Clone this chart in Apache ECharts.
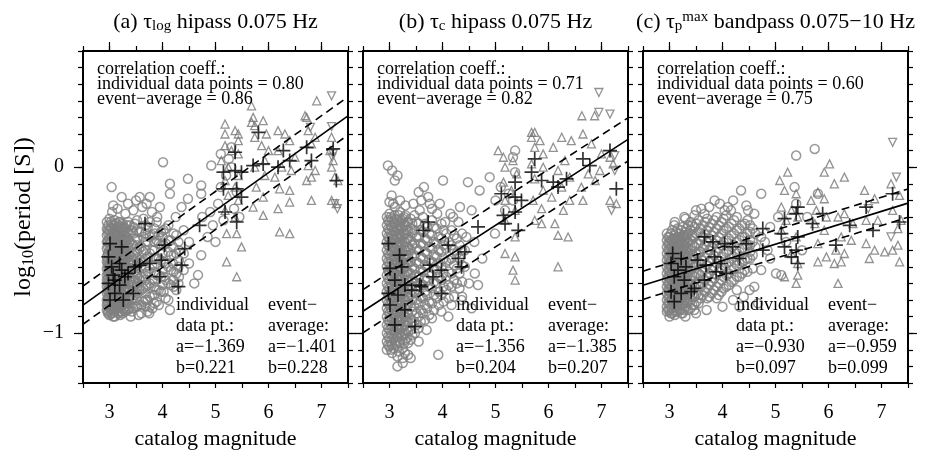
<!DOCTYPE html>
<html><head><meta charset="utf-8">
<script src="https://cdn.jsdelivr.net/npm/echarts@6/dist/echarts.min.js"></script>
<style>html,body{margin:0;padding:0;background:#fff}#c{width:926px;height:450px}</style>
</head><body><div id="c"></div>
<script>
// ---------- data ----------
const xTickVals = [3, 4, 5, 6, 7];
const xTickLabels = ['3', '4', '5', '6', '7'];
const yTickVals = [-1, 0];
const yTickLabels = ['\u22121', '0'];

const panelTitles = [
  '(a) \u03c4{sub|log} hipass 0.075 Hz',
  '(b) \u03c4{sub|c} hipass 0.075 Hz',
  '(c) \u03c4{sub|p}{sup|max} bandpass 0.075\u221210 Hz'
];
const corrIndividual = ['0.80', '0.71', '0.60'];
const corrEvent = ['0.86', '0.82', '0.75'];
const coefIndividualA = ['\u22121.369', '\u22121.356', '\u22120.930'];
const coefIndividualB = ['0.221', '0.204', '0.097'];
const coefEventA = ['\u22121.401', '\u22121.385', '\u22120.959'];
const coefEventB = ['0.228', '0.207', '0.099'];
// event-average regression (a, b) and dashed band half-width
const fitA = [-1.401, -1.385, -0.959];
const fitB = [0.228, 0.207, 0.099];
const fitBand = [0.115, 0.13, 0.085];

const circlesA = [
[2.97,-0.38],[2.97,-0.45],[2.97,-0.52],[2.97,-0.58],[2.97,-0.63],[2.97,-0.69],[2.97,-0.74],[2.97,-0.79],[2.97,-0.84],[2.97,-0.88],
[3.07,-0.40],[3.07,-0.47],[3.07,-0.53],[3.07,-0.60],[3.07,-0.64],[3.07,-0.70],[3.07,-0.75],[3.07,-0.80],[3.07,-0.86],[3.07,-0.90],
[3.17,-0.33],[3.17,-0.41],[3.17,-0.49],[3.17,-0.55],[3.17,-0.63],[3.17,-0.67],[3.17,-0.72],[3.17,-0.78],[3.17,-0.83],[3.17,-0.87],
[3.27,-0.36],[3.27,-0.43],[3.27,-0.51],[3.27,-0.59],[3.27,-0.66],[3.27,-0.74],[3.27,-0.81],[3.27,-0.86],
[3.38,-0.35],[3.38,-0.45],[3.38,-0.53],[3.38,-0.61],[3.38,-0.69],[3.38,-0.78],[3.38,-0.85],
[3.52,-0.32],[3.52,-0.47],[3.52,-0.55],[3.52,-0.64],[3.52,-0.72],[3.52,-0.80],
[3.68,-0.40],[3.68,-0.50],[3.68,-0.60],[3.68,-0.68],[3.68,-0.76],[3.68,-0.84],
[3.85,-0.45],[3.85,-0.55],[3.85,-0.63],[3.85,-0.72],[3.85,-0.82],
[4.00,-0.42],[4.00,-0.52],[4.00,-0.62],[4.00,-0.71],
[4.20,-0.48],[4.20,-0.58],[4.20,-0.68],
[4.30,-0.45],[4.30,-0.60],[4.30,-0.70],
[4.40,-0.52],[4.40,-0.62],
[4.01,0.03],[4.92,0.01],[4.14,-0.10],[4.48,-0.07],[3.04,-0.12],[3.23,-0.18],[4.14,-0.16],[3.57,-0.18],[3.76,-0.18],[4.48,-0.19],
[4.73,-0.11],[4.73,-0.16],[3.07,-0.23],[3.95,-0.24],[4.36,-0.24],[4.73,-0.53],[4.67,-0.65],[4.14,-0.86],[3.60,-0.88],
[5.05,-0.22],[5.10,-0.12],[5.20,-0.05],[5.25,0.05],[5.35,-0.25],[5.40,-0.15],[5.30,0.00],[5.45,-0.30],[5.15,-0.32],
[4.95,-0.35],[4.85,-0.42],[4.90,-0.27],[5.00,-0.45],[4.75,-0.30],[5.10,0.08],[5.30,0.12],
[3.05,-0.27],[3.15,-0.25],[3.30,-0.28],[3.45,-0.26],[3.62,-0.24],[3.80,-0.27],[3.90,-0.30],[3.35,-0.22],[3.50,-0.20],[3.70,-0.22],
[4.25,-0.30],[4.40,-0.38],[4.50,-0.45],[4.50,-0.58],[4.60,-0.70],[3.40,-0.90],[3.55,-0.89],[3.75,-0.88]
];
// dense cloud of individual points, per magnitude column
const coreColsA = [
[2.95,[-0.33,-0.37,-0.41,-0.45,-0.49,-0.54,-0.57,-0.61,-0.65,-0.68,-0.72,-0.76,-0.80,-0.83,-0.86]],
[2.975,[-0.35,-0.40,-0.44,-0.48,-0.52,-0.56,-0.60,-0.64,-0.67,-0.71,-0.75,-0.78,-0.82,-0.87]],
[3.00,[-0.31,-0.38,-0.43,-0.46,-0.50,-0.53,-0.58,-0.62,-0.64,-0.69,-0.73,-0.75,-0.79,-0.85,-0.89]],
[3.025,[-0.33,-0.37,-0.41,-0.45,-0.49,-0.53,-0.57,-0.60,-0.65,-0.69,-0.72,-0.76,-0.80,-0.84,-0.88]],
[3.05,[-0.34,-0.37,-0.42,-0.45,-0.51,-0.55,-0.57,-0.62,-0.66,-0.68,-0.73,-0.77,-0.81,-0.84,-0.88]],
[3.075,[-0.35,-0.39,-0.43,-0.47,-0.52,-0.55,-0.59,-0.63,-0.67,-0.71,-0.74,-0.78,-0.83,-0.87]],
[3.10,[-0.32,-0.39,-0.41,-0.47,-0.49,-0.54,-0.59,-0.61,-0.65,-0.70,-0.72,-0.76,-0.81,-0.86,-0.90]],
[3.125,[-0.34,-0.38,-0.42,-0.46,-0.50,-0.55,-0.58,-0.62,-0.66,-0.69,-0.74,-0.77,-0.82,-0.85]],
[3.15,[-0.36,-0.39,-0.44,-0.47,-0.52,-0.56,-0.59,-0.64,-0.66,-0.70,-0.74,-0.78,-0.81,-0.85]],
[3.175,[-0.35,-0.40,-0.43,-0.48,-0.51,-0.57,-0.60,-0.62,-0.68,-0.72,-0.75,-0.80,-0.84,-0.88]],
[3.20,[-0.33,-0.37,-0.42,-0.48,-0.50,-0.54,-0.60,-0.63,-0.67,-0.69,-0.74,-0.78,-0.80,-0.85,-0.89]],
[3.225,[-0.36,-0.40,-0.44,-0.49,-0.53,-0.56,-0.61,-0.64,-0.69,-0.72,-0.75,-0.79,-0.84,-0.87]],
[3.25,[-0.34,-0.39,-0.44,-0.47,-0.53,-0.56,-0.61,-0.63,-0.68,-0.71,-0.77,-0.79,-0.83,-0.88]],
[3.275,[-0.38,-0.41,-0.46,-0.49,-0.54,-0.58,-0.62,-0.65,-0.70,-0.73,-0.78,-0.82,-0.85]],
[3.30,[-0.37,-0.42,-0.45,-0.51,-0.54,-0.59,-0.61,-0.66,-0.68,-0.73,-0.75,-0.80,-0.82,-0.87]],
[3.325,[-0.35,-0.39,-0.44,-0.47,-0.53,-0.55,-0.60,-0.64,-0.67,-0.72,-0.76,-0.81,-0.85]],
[3.35,[-0.33,-0.39,-0.43,-0.49,-0.52,-0.57,-0.62,-0.65,-0.70,-0.74,-0.79,-0.82,-0.86]],
[3.42,[-0.38,-0.46,-0.54,-0.62,-0.71,-0.79,-0.87]],
[3.45,[-0.36,-0.40,-0.47,-0.53,-0.56,-0.63,-0.69,-0.72,-0.79,-0.85]],
[3.48,[-0.34,-0.44,-0.52,-0.60,-0.68,-0.77,-0.84]],
[3.52,[-0.38,-0.43,-0.51,-0.59,-0.66,-0.70,-0.76,-0.84]],
[3.56,[-0.39,-0.49,-0.58,-0.67,-0.74,-0.83]],
[3.60,[-0.39,-0.48,-0.57,-0.66,-0.74,-0.83]],
[3.64,[-0.31,-0.42,-0.51,-0.57,-0.66,-0.73,-0.81]],
[3.68,[-0.35,-0.45,-0.55,-0.64,-0.72,-0.80]],
[3.72,[-0.36,-0.45,-0.54,-0.63,-0.71,-0.80,-0.87]],
[3.76,[-0.33,-0.42,-0.52,-0.61,-0.70,-0.78,-0.84]],
[3.81,[-0.41,-0.50,-0.59,-0.68,-0.77,-0.85]],
[3.85,[-0.37,-0.40,-0.50,-0.59,-0.68,-0.77]],
[3.89,[-0.33,-0.44,-0.55,-0.65,-0.74,-0.81]],
[3.93,[-0.41,-0.46,-0.55,-0.65,-0.74,-0.83]],
[3.97,[-0.39,-0.47,-0.56,-0.66,-0.75]],
[4.02,[-0.38,-0.47,-0.57,-0.66,-0.75]],
[4.06,[-0.37,-0.46,-0.58,-0.68,-0.79]],
[4.11,[-0.35,-0.44,-0.51,-0.60,-0.70,-0.80]],
[4.16,[-0.44,-0.53,-0.62,-0.71]],
[4.21,[-0.40,-0.53,-0.63,-0.72]],
[4.26,[-0.41,-0.52,-0.64,-0.74]],
[4.31,[-0.50,-0.56,-0.66]]
];
const triUpA = [
[5.18,0.26],[5.37,0.22],[5.43,0.20],[5.18,0.13],[5.30,0.10],[5.43,0.08],[5.11,0.04],[5.24,0.00],[5.43,-0.05],[5.18,-0.08],
[5.37,-0.12],[5.24,-0.17],[5.43,-0.20],[5.18,-0.26],[5.37,-0.30],[5.21,-0.40],[5.40,-0.40],[5.49,-0.48],[5.21,-0.57],[5.40,-0.66],
[5.43,0.16],[5.18,0.20],
[5.71,0.30],[5.90,0.28],[5.74,0.25],[5.96,0.20],[5.74,0.18],[5.87,0.13],[6.00,0.10],[5.74,0.00],[5.93,-0.05],[5.77,-0.12],
[5.90,-0.18],[5.71,-0.24],[5.90,-0.29],[5.93,0.04],[5.68,0.27],[5.68,0.37],
[6.18,0.22],[6.31,0.20],[6.40,0.16],[6.18,0.10],[6.50,0.06],[6.25,0.00],[6.43,-0.02],[6.21,-0.13],[6.40,-0.14],[6.18,-0.25],
[6.40,-0.21],[6.21,-0.39],[6.40,-0.40],[6.12,-0.06],
[6.69,0.31],[6.75,0.22],[6.88,0.18],[6.81,0.14],[6.75,0.01],[6.88,-0.02],[6.81,-0.06],[6.72,-0.08],[6.81,-0.20],[6.91,0.40],[6.72,0.30],
[7.19,0.18],[7.16,0.10],[7.22,0.04],[7.19,0.00],[7.25,-0.06],[7.19,-0.20],[7.28,-0.22],[7.31,-0.08]
];
const triDownA = [
[7.19,0.43],[6.79,0.24],[7.19,0.245],[7.20,0.06],[7.25,-0.22],[7.30,-0.25],[7.22,0.08]
];
const plusA = [
[5.81,0.21],[5.37,0.09],[5.15,-0.03],[5.37,-0.02],[5.49,-0.03],[5.71,0.01],[5.90,0.02],[6.18,0.00],[6.28,0.10],[6.40,0.04],
[6.72,0.12],[6.81,0.04],[7.22,0.11],[7.28,-0.08],[5.15,-0.13],[5.40,-0.13],[5.49,-0.18],[5.18,-0.27],[5.40,-0.33],[4.70,-0.35],
[3.67,-0.34],[4.04,-0.47],[4.42,-0.49],[4.36,-0.59],[3.98,-0.56],[3.76,-0.58],[3.57,-0.59],[3.01,-0.46],[3.23,-0.48],[2.98,-0.54],
[3.04,-0.60],[3.23,-0.62],[3.10,-0.68],[3.29,-0.66],[2.98,-0.70],[3.19,-0.71],[3.35,-0.64],[3.10,-0.76],[3.01,-0.80],[3.26,-0.80],
[3.45,-0.76],[3.48,-0.60],[3.95,-0.66],[4.30,-0.72],[3.19,-0.58],[3.07,-0.65]
];

const circlesB = [
[2.97,0.01],[3.05,-0.02],[3.15,-0.05],[3.10,-0.08],[3.04,-0.17],[3.07,-0.22],[4.01,-0.08],[4.48,-0.09],[4.89,-0.06],[4.70,-0.14],
[3.73,-0.18],[3.76,-0.22],[3.57,-0.26],[4.33,-0.24],[4.55,-0.26],[4.99,-0.40],[4.67,-0.71],[4.61,-0.64],[4.36,-0.80],[4.11,-0.90],
[3.92,-1.13],[3.48,-1.00],[3.29,-1.12],[3.40,-1.15],[5.37,0.10],[5.33,0.06],[5.37,-0.03],[5.33,-0.20],[5.18,-0.26],[4.20,-0.30],
[4.05,-0.33],[3.90,-0.28],[4.60,-0.45],[4.75,-0.55],[5.00,-0.20],[5.10,-0.12],[5.25,-0.16],
[3.00,-0.21],[3.10,-0.24],[3.20,-0.20],[3.30,-0.23],[3.45,-0.22],[3.60,-0.20],[3.55,-0.15],[3.65,-0.12],[3.80,-0.25],[3.95,-0.22],
[4.15,-0.28],[4.30,-0.33],[4.45,-0.42],[4.50,-0.70],[4.55,-0.85],[3.55,-1.05],[3.70,-0.98],[3.15,-1.20],[3.25,-1.18],
[4.42,-0.50],[4.42,-0.60]
];
const coreColsB = [
[2.95,[-0.30,-0.35,-0.40,-0.45,-0.50,-0.55,-0.60,-0.65,-0.70,-0.75,-0.80,-0.85,-0.90,-0.95,-1.00,-1.05,-1.10]],
[2.975,[-0.32,-0.37,-0.42,-0.47,-0.52,-0.57,-0.62,-0.67,-0.72,-0.77,-0.82,-0.87,-0.92,-0.97,-1.02,-1.07]],
[3.00,[-0.28,-0.33,-0.38,-0.43,-0.48,-0.53,-0.58,-0.63,-0.68,-0.73,-0.78,-0.83,-0.88,-0.93,-0.98,-1.03,-1.08]],
[3.025,[-0.30,-0.35,-0.40,-0.45,-0.50,-0.55,-0.60,-0.65,-0.70,-0.75,-0.80,-0.85,-0.90,-0.95,-1.00,-1.05,-1.10]],
[3.05,[-0.31,-0.36,-0.41,-0.46,-0.51,-0.56,-0.61,-0.66,-0.71,-0.76,-0.81,-0.86,-0.91,-0.96,-1.01,-1.07,-1.12]],
[3.075,[-0.33,-0.38,-0.43,-0.48,-0.53,-0.58,-0.63,-0.68,-0.73,-0.78,-0.83,-0.88,-0.93,-0.98,-1.03,-1.09]],
[3.10,[-0.29,-0.34,-0.39,-0.44,-0.49,-0.54,-0.59,-0.64,-0.69,-0.74,-0.79,-0.84,-0.89,-0.94,-0.99,-1.05]],
[3.125,[-0.31,-0.36,-0.41,-0.46,-0.51,-0.56,-0.61,-0.66,-0.71,-0.76,-0.81,-0.86,-0.91,-0.96,-1.01,-1.07]],
[3.15,[-0.32,-0.37,-0.42,-0.47,-0.52,-0.57,-0.62,-0.67,-0.72,-0.77,-0.82,-0.87,-0.92,-0.97,-1.02,-1.08,-1.14]],
[3.175,[-0.29,-0.35,-0.40,-0.45,-0.50,-0.55,-0.60,-0.65,-0.70,-0.75,-0.80,-0.85,-0.90,-0.95,-1.00,-1.05,-1.11]],
[3.20,[-0.27,-0.33,-0.38,-0.43,-0.48,-0.53,-0.58,-0.63,-0.68,-0.73,-0.78,-0.83,-0.88,-0.93,-0.98,-1.06]],
[3.225,[-0.32,-0.37,-0.42,-0.47,-0.52,-0.57,-0.62,-0.67,-0.72,-0.77,-0.82,-0.87,-0.92,-0.97,-1.02]],
[3.25,[-0.31,-0.36,-0.41,-0.46,-0.51,-0.56,-0.61,-0.66,-0.71,-0.76,-0.81,-0.86,-0.91,-0.96,-1.01,-1.09,-1.15]],
[3.275,[-0.30,-0.35,-0.40,-0.45,-0.50,-0.55,-0.60,-0.65,-0.70,-0.75,-0.80,-0.85,-0.90,-0.95,-1.00,-1.06]],
[3.30,[-0.29,-0.35,-0.40,-0.45,-0.50,-0.55,-0.60,-0.65,-0.70,-0.75,-0.80,-0.85,-0.90,-0.95,-1.00,-1.04]],
[3.325,[-0.33,-0.38,-0.43,-0.48,-0.53,-0.58,-0.63,-0.68,-0.73,-0.78,-0.83,-0.88,-0.93,-0.98,-1.03]],
[3.35,[-0.33,-0.38,-0.43,-0.48,-0.53,-0.58,-0.63,-0.68,-0.73,-0.78,-0.83,-0.88,-0.93,-0.99,-1.06,-1.13]],
[3.40,[-0.31,-0.37,-0.44,-0.50,-0.57,-0.64,-0.71,-0.77,-0.84,-0.91,-0.98,-1.04]],
[3.43,[-0.34,-0.40,-0.47,-0.54,-0.60,-0.67,-0.74,-0.80,-0.87,-0.94,-1.01]],
[3.47,[-0.29,-0.38,-0.46,-0.53,-0.61,-0.69,-0.76,-0.84,-0.93]],
[3.51,[-0.33,-0.42,-0.49,-0.57,-0.65,-0.72,-0.80,-0.88,-0.95]],
[3.55,[-0.34,-0.42,-0.50,-0.58,-0.66,-0.74,-0.82,-0.90,-0.97]],
[3.59,[-0.38,-0.46,-0.54,-0.62,-0.70,-0.78,-0.86,-0.93]],
[3.63,[-0.30,-0.39,-0.47,-0.55,-0.63,-0.71,-0.79,-0.88]],
[3.67,[-0.34,-0.43,-0.51,-0.59,-0.67,-0.75,-0.83,-0.92]],
[3.71,[-0.36,-0.44,-0.52,-0.60,-0.68,-0.77,-0.85]],
[3.75,[-0.40,-0.48,-0.56,-0.64,-0.72,-0.81,-0.89]],
[3.80,[-0.32,-0.41,-0.49,-0.57,-0.65,-0.73,-0.82,-0.91]],
[3.84,[-0.36,-0.45,-0.53,-0.61,-0.69,-0.77,-0.86]],
[3.89,[-0.37,-0.46,-0.54,-0.62,-0.70,-0.79]],
[3.93,[-0.42,-0.50,-0.58,-0.66,-0.75,-0.83]],
[3.98,[-0.34,-0.43,-0.51,-0.60,-0.68,-0.77,-0.87]],
[4.02,[-0.38,-0.47,-0.55,-0.64,-0.72,-0.81]],
[4.07,[-0.40,-0.49,-0.57,-0.66,-0.74]],
[4.12,[-0.45,-0.56,-0.63,-0.71,-0.79]],
[4.17,[-0.38,-0.47,-0.55,-0.64,-0.72,-0.83]],
[4.22,[-0.41,-0.50,-0.59,-0.68,-0.78]],
[4.27,[-0.43,-0.52,-0.61,-0.70]],
[4.32,[-0.47,-0.55,-0.64,-0.73]],
[4.37,[-0.40,-0.50,-0.59,-0.69,-0.78]]
];
const triUpB = [
[6.87,0.31],[6.63,0.31],[5.68,0.21],
[5.74,0.21],[5.68,0.18],[5.84,0.16],[5.74,0.12],[5.90,0.08],[5.68,0.02],[5.90,0.00],[5.74,-0.07],[5.90,-0.14],[5.71,-0.20],
[5.87,-0.25],[5.74,-0.32],[5.87,-0.34],
[5.15,0.06],[5.33,0.04],[5.18,0.00],[5.40,-0.04],[5.15,-0.09],[5.30,-0.14],[5.18,-0.20],[5.37,-0.26],[5.18,-0.32],[5.37,-0.42],
[5.18,-0.52],[5.37,-0.54],[5.33,-0.62],[5.37,-0.68],[5.05,0.10],
[6.25,0.18],[6.09,0.12],[6.43,0.16],[6.31,0.04],[6.18,-0.02],[6.40,-0.06],[6.25,-0.12],[6.06,-0.18],[6.40,-0.20],[6.28,-0.26],
[6.12,-0.34],[6.18,-0.41],[6.37,-0.42],[6.18,-0.60],
[6.65,0.20],[6.81,0.14],[7.00,0.08],[6.75,-0.04],[6.97,-0.02],[6.62,-0.12],[6.88,-0.08],[6.65,-0.20],
[7.16,0.06],[7.22,0.02],[7.16,-0.20],[7.28,-0.22]
];
const triDownB = [
[7.16,0.32],[7.25,-0.02],[7.19,-0.26],[7.25,0.07],[6.95,0.45],[6.95,0.33]
];
const plusB = [
[5.74,0.05],[5.68,-0.03],[5.87,-0.08],[6.09,-0.09],[6.18,-0.12],[6.34,-0.07],[6.65,0.05],[6.78,0.01],[7.16,0.10],[7.28,-0.13],
[5.37,-0.09],[5.11,-0.16],[5.37,-0.18],[5.49,-0.20],[5.15,-0.29],[5.37,-0.27],[5.18,-0.34],[5.43,-0.38],[4.67,-0.36],[3.73,-0.33],
[3.64,-0.38],[4.11,-0.47],[4.42,-0.51],[4.30,-0.55],[4.36,-0.60],[3.98,-0.62],[3.76,-0.59],[3.82,-0.66],[3.57,-0.71],[3.98,-0.76],
[2.98,-0.46],[3.19,-0.53],[3.01,-0.61],[3.23,-0.60],[3.10,-0.68],[3.29,-0.71],[2.98,-0.76],[3.16,-0.77],[3.42,-0.74],[3.01,-0.83],
[3.29,-0.86],[3.10,-0.95],[3.48,-0.96],[3.60,-0.72]
];

const circlesC = [
[5.39,0.07],[5.74,0.11],[4.35,-0.14],[4.73,-0.16],[3.85,-0.20],[4.04,-0.26],[4.16,-0.26],[4.48,-0.26],[3.09,-0.35],[3.28,-0.30],
[3.47,-0.29],[3.66,-0.28],[4.73,-0.42],[5.01,-0.64],[4.73,-0.62],[5.11,-0.65],[4.51,-0.74],[4.32,-0.84],[3.47,-0.86],[4.67,-0.82],
[5.39,-0.22],[5.36,-0.12],[5.05,-0.30],[4.90,-0.36],[5.20,-0.45],[4.85,-0.50],[5.80,-0.16],[5.60,-0.30],[5.50,-0.50],
[3.10,-0.33],[3.30,-0.31],[3.50,-0.26],[3.60,-0.25],[3.75,-0.24],[3.95,-0.22],[4.10,-0.24],[4.20,-0.20],[4.45,-0.23],[4.60,-0.28],
[3.30,-0.90],[3.50,-0.88],[3.70,-0.86],[4.00,-0.84],[4.20,-0.80],[4.40,-0.78],[4.60,-0.72],[4.80,-0.45],[4.90,-0.55],
[4.62,-0.40],[4.62,-0.48],[4.52,-0.35],[4.52,-0.44],[4.52,-0.51]
];
const coreColsC = [
[2.95,[-0.40,-0.44,-0.48,-0.52,-0.56,-0.60,-0.64,-0.68,-0.72,-0.76,-0.80,-0.84,-0.87]],
[2.975,[-0.42,-0.46,-0.50,-0.54,-0.58,-0.62,-0.66,-0.70,-0.74,-0.78,-0.82,-0.86]],
[3.00,[-0.42,-0.46,-0.50,-0.54,-0.58,-0.62,-0.66,-0.70,-0.74,-0.78,-0.82,-0.86,-0.90]],
[3.025,[-0.40,-0.44,-0.48,-0.52,-0.56,-0.60,-0.64,-0.68,-0.72,-0.76,-0.80,-0.84,-0.88]],
[3.05,[-0.38,-0.44,-0.48,-0.52,-0.56,-0.60,-0.64,-0.68,-0.72,-0.76,-0.80,-0.85,-0.88]],
[3.075,[-0.43,-0.46,-0.50,-0.54,-0.58,-0.62,-0.66,-0.70,-0.74,-0.78,-0.82,-0.87]],
[3.10,[-0.41,-0.45,-0.49,-0.53,-0.57,-0.61,-0.65,-0.69,-0.73,-0.77,-0.81,-0.84,-0.89]],
[3.125,[-0.39,-0.43,-0.47,-0.51,-0.55,-0.59,-0.63,-0.67,-0.71,-0.75,-0.79,-0.83,-0.87]],
[3.15,[-0.37,-0.43,-0.47,-0.51,-0.55,-0.59,-0.63,-0.67,-0.71,-0.75,-0.79,-0.83,-0.87]],
[3.175,[-0.42,-0.45,-0.49,-0.53,-0.57,-0.61,-0.65,-0.69,-0.73,-0.77,-0.81,-0.85]],
[3.20,[-0.40,-0.44,-0.48,-0.52,-0.56,-0.60,-0.64,-0.68,-0.72,-0.76,-0.80,-0.86]],
[3.225,[-0.38,-0.42,-0.46,-0.50,-0.54,-0.58,-0.62,-0.66,-0.70,-0.74,-0.78,-0.83,-0.88]],
[3.25,[-0.36,-0.42,-0.46,-0.50,-0.54,-0.58,-0.62,-0.66,-0.70,-0.74,-0.78,-0.82,-0.88]],
[3.275,[-0.41,-0.44,-0.48,-0.52,-0.56,-0.60,-0.64,-0.68,-0.72,-0.76,-0.80,-0.86]],
[3.30,[-0.39,-0.43,-0.47,-0.51,-0.55,-0.59,-0.63,-0.67,-0.71,-0.75,-0.80,-0.84]],
[3.325,[-0.37,-0.41,-0.45,-0.49,-0.53,-0.57,-0.61,-0.65,-0.69,-0.73,-0.78,-0.82]],
[3.35,[-0.35,-0.41,-0.45,-0.49,-0.53,-0.57,-0.61,-0.65,-0.69,-0.73,-0.77,-0.81,-0.86]],
[3.40,[-0.33,-0.38,-0.44,-0.50,-0.56,-0.62,-0.68,-0.74,-0.80,-0.85]],
[3.43,[-0.35,-0.41,-0.47,-0.53,-0.59,-0.65,-0.71,-0.77,-0.83]],
[3.47,[-0.36,-0.42,-0.48,-0.54,-0.60,-0.66,-0.72,-0.78,-0.83]],
[3.51,[-0.34,-0.40,-0.46,-0.52,-0.58,-0.64,-0.70,-0.76,-0.81]],
[3.55,[-0.32,-0.39,-0.46,-0.52,-0.58,-0.64,-0.70,-0.77,-0.82]],
[3.59,[-0.37,-0.44,-0.51,-0.58,-0.65,-0.72,-0.79]],
[3.63,[-0.35,-0.42,-0.49,-0.56,-0.63,-0.70,-0.77]],
[3.67,[-0.33,-0.40,-0.47,-0.54,-0.61,-0.68,-0.75]],
[3.71,[-0.31,-0.38,-0.45,-0.52,-0.59,-0.66,-0.73,-0.79]],
[3.75,[-0.36,-0.43,-0.50,-0.57,-0.64,-0.71,-0.78]],
[3.80,[-0.34,-0.41,-0.48,-0.55,-0.62,-0.69,-0.76]],
[3.84,[-0.32,-0.39,-0.46,-0.53,-0.60,-0.67,-0.74]],
[3.89,[-0.30,-0.37,-0.44,-0.51,-0.58,-0.65,-0.72,-0.79]],
[3.93,[-0.35,-0.42,-0.49,-0.56,-0.63,-0.70,-0.77]],
[3.98,[-0.33,-0.40,-0.47,-0.54,-0.61,-0.68,-0.75]],
[4.02,[-0.31,-0.38,-0.45,-0.52,-0.59,-0.66,-0.73]],
[4.07,[-0.29,-0.37,-0.44,-0.51,-0.58,-0.65,-0.72]],
[4.12,[-0.36,-0.43,-0.50,-0.57,-0.64,-0.71]],
[4.17,[-0.34,-0.41,-0.48,-0.55,-0.62,-0.69]],
[4.22,[-0.32,-0.40,-0.47,-0.54,-0.61,-0.68]],
[4.27,[-0.30,-0.38,-0.45,-0.52,-0.59,-0.66,-0.74]],
[4.32,[-0.37,-0.44,-0.51,-0.58,-0.66]],
[4.37,[-0.35,-0.42,-0.49,-0.57,-0.64]],
[4.42,[-0.34,-0.42,-0.49,-0.56,-0.62]],
[4.47,[-0.32,-0.40,-0.47,-0.55,-0.63]],
[4.52,[-0.39,-0.47,-0.55]],
[4.57,[-0.37,-0.45,-0.53,-0.61]]
];
const triUpC = [
[6.02,0.02],[5.92,-0.03],[6.30,-0.06],[6.11,-0.10],[5.08,-0.08],[5.23,-0.03],[5.17,-0.14],[5.39,-0.16],[5.11,-0.24],[5.30,-0.26],
[5.42,-0.30],[5.20,-0.32],[5.11,-0.38],[5.39,-0.42],[5.30,-0.52],[5.42,-0.58],[5.17,-0.66],[5.39,-0.70],[5.42,-0.65],
[5.80,-0.15],[5.92,-0.19],[5.67,-0.20],[5.77,-0.26],[5.96,-0.30],[5.74,-0.34],[5.92,-0.38],[5.80,-0.46],[5.96,-0.54],[5.80,-0.57],
[6.18,-0.30],[6.30,-0.28],[6.46,-0.34],[6.24,-0.42],[6.43,-0.44],[6.14,-0.50],[6.30,-0.52],[6.11,-0.58],[6.24,-0.57],[6.18,-0.70],
[6.68,-0.14],[6.87,-0.19],[6.71,-0.32],[6.93,-0.32],[6.71,-0.46],[6.87,-0.50],[7.06,-0.51],[6.77,-0.55],
[7.18,-0.10],[7.34,-0.17],[7.21,-0.26],[7.37,-0.32],[7.31,-0.37],[7.31,-0.47],[7.21,-0.50],[7.34,-0.57]
];
const triDownC = [
[7.21,0.15],[7.28,-0.06],[7.18,-0.42],[6.75,-0.25]
];
const plusC = [
[7.21,-0.16],[6.71,-0.24],[6.40,-0.35],[6.84,-0.38],[7.34,-0.33],[6.14,-0.47],[5.89,-0.28],[5.70,-0.34],[5.42,-0.24],[5.39,-0.28],
[5.17,-0.31],[5.42,-0.42],[5.17,-0.48],[5.39,-0.50],[5.30,-0.54],[5.42,-0.58],[5.11,-0.40],[4.76,-0.37],[4.76,-0.50],[4.45,-0.46],
[4.32,-0.55],[4.04,-0.46],[4.19,-0.48],[3.85,-0.54],[3.97,-0.58],[3.66,-0.42],[3.82,-0.45],[3.53,-0.56],[3.69,-0.59],[3.88,-0.63],
[4.07,-0.64],[3.66,-0.68],[3.47,-0.73],[3.06,-0.52],[3.22,-0.55],[3.03,-0.58],[3.16,-0.62],[3.31,-0.60],[3.09,-0.66],[3.28,-0.68],
[3.03,-0.75],[3.22,-0.76],[3.09,-0.81],[3.41,-0.75]
];

// ---------- layout ----------
const SERIF = '"Liberation Serif", "DejaVu Serif", serif';
const gridLeft = [83, 363, 643];
const gridW = 265, gridTop = 51, gridH = 332;
const X0 = 2.5, X1 = 7.5, Y0 = -1.3, Y1 = 0.7;

const expand = cols => cols.flatMap(([m, vs]) => vs.map(v => [m, v]));
const circles = [circlesA.concat(expand(coreColsA)), circlesB.concat(expand(coreColsB)), circlesC.concat(expand(coreColsC))];
const triUp = [triUpA, triUpB, triUpC];
const triDown = [triDownA, triDownB, triDownC];
const pluses = [plusA, plusB, plusC];

function matchLabel(v, vals, labels) {
  for (let i = 0; i < vals.length; i++) if (Math.abs(v - vals[i]) < 1e-6) return labels[i];
  return '';
}

const grids = [], xAxes = [], yAxes = [], series = [], graphics = [];
const blackLine = { show: true, onZero: false, lineStyle: { color: '#000', width: 2 } };
const noLine = { show: false, onZero: false };
const tickStyle = { color: '#000', width: 1.2 };

for (let p = 0; p < 3; p++) {
  grids.push({ left: gridLeft[p], top: gridTop, width: gridW, height: gridH,
    containLabel: false, outerBoundsMode: 'none' });
  const xb = xAxes.length;
  xAxes.push({
    gridIndex: p, type: 'value', min: X0, max: X1, interval: 0.5, position: 'bottom',
    axisLine: blackLine, splitLine: { show: false },
    axisTick: { show: true, length: 5, lineStyle: tickStyle },
    axisLabel: { show: true, margin: 20, fontSize: 20, fontFamily: SERIF, color: '#000',
      formatter: v => matchLabel(v, xTickVals, xTickLabels) },
    name: 'catalog magnitude', nameLocation: 'middle', nameGap: 44,
    nameTextStyle: { fontSize: 22, fontFamily: SERIF, color: '#000' }
  });
  xAxes.push({
    gridIndex: p, type: 'value', min: X0, max: X1, interval: 0.5, position: 'top',
    axisLine: blackLine, splitLine: { show: false },
    axisTick: { show: true, length: 5, lineStyle: tickStyle }, axisLabel: { show: false }
  });
  xAxes.push({
    gridIndex: p, type: 'value', min: X0, max: X1, position: 'top',
    axisLine: noLine, splitLine: { show: false },
    axisTick: { show: true, length: 9, customValues: xTickVals, lineStyle: tickStyle }, axisLabel: { show: false }
  });
  const yb = yAxes.length;
  yAxes.push(Object.assign({
    gridIndex: p, type: 'value', min: Y0, max: Y1, interval: 0.1, position: 'left',
    axisLine: blackLine, splitLine: { show: false },
    axisTick: { show: true, length: 5, lineStyle: tickStyle },
    axisLabel: { show: p === 0, margin: 19, fontSize: 20, fontFamily: SERIF, color: '#000',
      formatter: v => matchLabel(v, yTickVals, yTickLabels) }
  }, p === 0 ? {
    name: 'log{sub|10}(period [S])', nameLocation: 'middle', nameGap: 46,
    nameTextStyle: { fontSize: 24, fontFamily: SERIF, color: '#000',
      rich: { sub: { fontSize: 16, fontFamily: SERIF, color: '#000', padding: [10, 0, 0, 0] } } }
  } : {}));
  yAxes.push({
    gridIndex: p, type: 'value', min: Y0, max: Y1, interval: 0.1, position: 'right',
    axisLine: blackLine, splitLine: { show: false },
    axisTick: { show: true, length: 5, lineStyle: tickStyle }, axisLabel: { show: false }
  });
  yAxes.push({
    gridIndex: p, type: 'value', min: Y0, max: Y1, position: 'left',
    axisLine: noLine, splitLine: { show: false },
    axisTick: { show: true, length: 9, customValues: yTickVals, lineStyle: tickStyle }, axisLabel: { show: false }
  });
  yAxes.push({
    gridIndex: p, type: 'value', min: Y0, max: Y1, position: 'right',
    axisLine: noLine, splitLine: { show: false },
    axisTick: { show: true, length: 9, customValues: yTickVals, lineStyle: tickStyle }, axisLabel: { show: false }
  });

  const common = { xAxisIndex: xb, yAxisIndex: yb, silent: true, animation: false };
  series.push(Object.assign({ type: 'scatter', symbol: 'circle', symbolSize: 9, z: 2, large: false,
    itemStyle: { color: 'rgba(0,0,0,0)', borderColor: '#7f7f7f', borderWidth: 1.5 }, data: circles[p] }, common));
  series.push(Object.assign({ type: 'scatter', symbol: 'triangle', symbolSize: 8, z: 3,
    itemStyle: { color: 'rgba(0,0,0,0)', borderColor: '#777', borderWidth: 1.3 }, data: triUp[p] }, common));
  series.push(Object.assign({ type: 'scatter', symbol: 'triangle', symbolRotate: 180, symbolSize: 8, z: 3,
    itemStyle: { color: 'rgba(0,0,0,0)', borderColor: '#777', borderWidth: 1.3 }, data: triDown[p] }, common));
  const a = fitA[p], b = fitB[p], s = fitBand[p];
  const mk = (off) => [[X0, a + b * X0 + off], [X1, a + b * X1 + off]];
  series.push(Object.assign({ type: 'line', symbol: 'none', z: 4, lineStyle: { color: '#000', width: 1.6 }, data: mk(0) }, common));
  series.push(Object.assign({ type: 'line', symbol: 'none', z: 4, lineStyle: { color: '#000', width: 1.6, type: [8, 5] }, data: mk(s) }, common));
  series.push(Object.assign({ type: 'line', symbol: 'none', z: 4, lineStyle: { color: '#000', width: 1.6, type: [8, 5] }, data: mk(-s) }, common));
  series.push(Object.assign({ type: 'scatter', symbol: 'path://M0,7L14,7M7,0L7,14', symbolSize: 14, z: 5,
    itemStyle: { color: 'rgba(0,0,0,0)', borderColor: '#000', borderWidth: 1.7 }, data: pluses[p] }, common));

  const cx = gridLeft[p] + gridW / 2;
  graphics.push({ type: 'text', x: cx, y: 22, z: 10, style: {
    text: panelTitles[p], align: 'center', verticalAlign: 'middle', fill: '#000',
    fontSize: 22, fontFamily: SERIF,
    rich: { sub: { fontSize: 15, fontFamily: SERIF, fill: '#000', padding: [9, 0, 0, 0] },
            sup: { fontSize: 15, fontFamily: SERIF, fill: '#000', padding: [0, 0, 9, 0] } } } });
  graphics.push({ type: 'text', x: gridLeft[p] + 14, y: 62, z: 10, style: {
    text: 'correlation coeff.:\nindividual data points = ' + corrIndividual[p] + '\nevent\u2212average = ' + corrEvent[p],
    align: 'left', verticalAlign: 'top', fill: '#000', fontSize: 18, lineHeight: 15, fontFamily: SERIF } });
  graphics.push({ type: 'text', x: gridLeft[p] + 93, y: 295, z: 10, style: {
    text: 'individual\ndata pt.:\na=' + coefIndividualA[p] + '\nb=' + coefIndividualB[p],
    align: 'left', verticalAlign: 'top', fill: '#000', fontSize: 18, lineHeight: 21, fontFamily: SERIF } });
  graphics.push({ type: 'text', x: gridLeft[p] + 185, y: 295, z: 10, style: {
    text: 'event\u2212\naverage:\na=' + coefEventA[p] + '\nb=' + coefEventB[p],
    align: 'left', verticalAlign: 'top', fill: '#000', fontSize: 18, lineHeight: 21, fontFamily: SERIF } });
}

const chart = echarts.init(document.getElementById('c'), null, { renderer: 'canvas' });
chart.setOption({
  animation: false, backgroundColor: '#fff',
  grid: grids, xAxis: xAxes, yAxis: yAxes, series: series, graphic: graphics
});
</script></body></html>
